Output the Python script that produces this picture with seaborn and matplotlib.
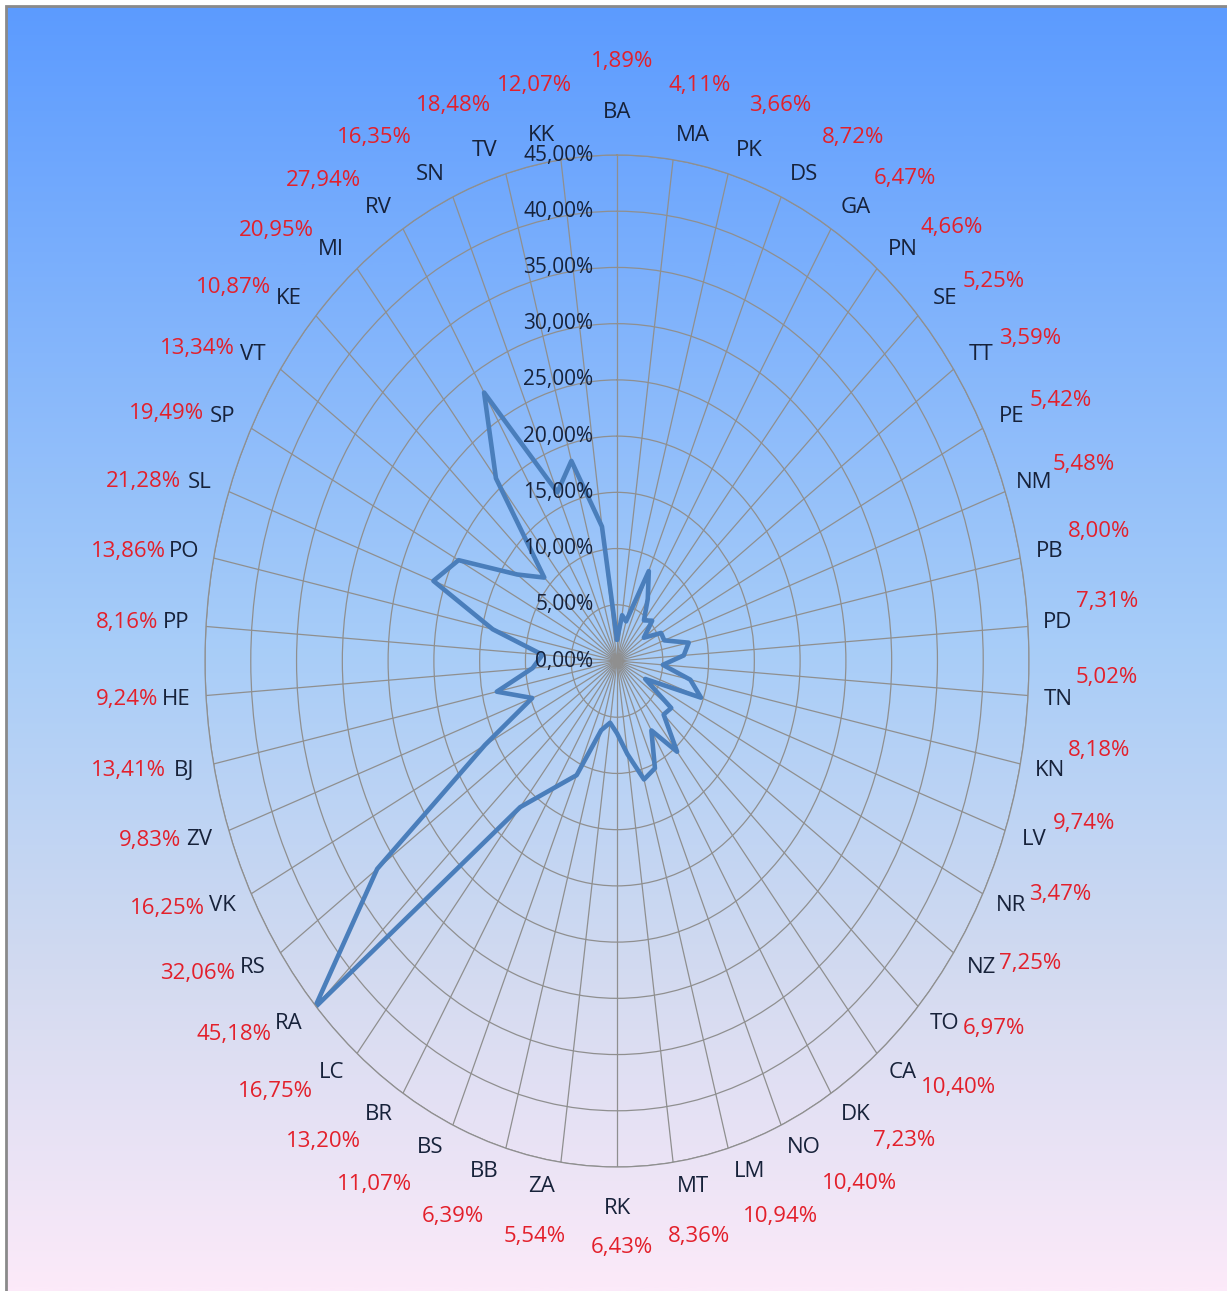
import numpy as np
import pandas as pd
import matplotlib
matplotlib.use("Agg")
import matplotlib.pyplot as plt
import seaborn as sns
from matplotlib.colors import LinearSegmentedColormap
from matplotlib.patches import Rectangle

# categorias en sentido horario desde arriba
categories = ["BA", "MA", "PK", "DS", "GA", "PN", "SE", "TT", "PE", "NM", "PB", "PD",
              "TN", "KN", "LV", "NR", "NZ", "TO", "CA", "DK", "NO", "LM", "MT", "RK",
              "ZA", "BB", "BS", "BR", "LC", "RA", "RS", "VK", "ZV", "BJ", "HE", "PP",
              "PO", "SL", "SP", "VT", "KE", "MI", "RV", "SN", "TV", "KK"]
values = [1.89, 4.11, 3.66, 8.72, 6.47, 4.66, 5.25, 3.59, 5.42, 5.48, 8.00, 7.31,
          5.02, 8.18, 9.74, 3.47, 7.25, 6.97, 10.40, 7.23, 10.40, 10.94, 8.36, 6.43,
          5.54, 6.39, 11.07, 13.20, 16.75, 45.18, 32.06, 16.25, 9.83, 13.41, 9.24, 8.16,
          13.86, 21.28, 19.49, 13.34, 10.87, 20.95, 27.94, 16.35, 18.48, 12.07]
r_ticks = [0, 5, 10, 15, 20, 25, 30, 35, 40, 45]

def pct(v):
    return f"{v:.2f}%".replace(".", ",")

sns.set_theme(style="white")
plt.rcParams["font.family"] = ["Open Sans", "DejaVu Sans"]

W, H = 1227, 1291
fig = plt.figure(figsize=(W / 100, H / 100), dpi=100)
fig.patch.set_facecolor("white")

# fondo degradado
cmap = LinearSegmentedColormap.from_list(
    "fondo", [(0.0, "#5C9BFF"), (0.5, "#A8CDF8"), (0.75, "#D2DAF0"), (1.0, "#FCEAF9")])
bg = fig.add_axes([6 / W, 0, 1 - 6 / W, 1 - 6 / H])
bg.imshow(np.linspace(0, 1, 512).reshape(-1, 1), aspect="auto", cmap=cmap, extent=[0, 1, 0, 1])
bg.axis("off")
fig.add_artist(Rectangle((6 / W, -0.01), 1.2, 1 - 6 / H + 0.01, transform=fig.transFigure,
                         fill=False, ec="#8A8A8A", lw=2))

n = len(categories)
angles = np.arange(n) * 2 * np.pi / n
df = pd.DataFrame({"angle": np.append(angles, 2 * np.pi), "value": values + [values[0]]})

ax = fig.add_axes([(617 - 412) / W, (H - 1167) / H, 824 / W, 1012 / H], projection="polar")
ax.set_aspect("auto")
ax.set_theta_zero_location("N")
ax.set_theta_direction(-1)
ax.set_facecolor("none")

sns.lineplot(data=df, x="angle", y="value", ax=ax, color="#4A7EBB", lw=3.3, sort=False)
ax.set_ylim(0, 45)
ax.set_xticks(angles)
ax.set_xticklabels([])
ax.set_yticks(r_ticks[1:])
ax.set_yticklabels([])
ax.set_xlabel("")
ax.set_ylabel("")
ax.grid(True, color="#8F8F8F", lw=0.9)
ax.spines["polar"].set_color("#8F8F8F")
ax.spines["polar"].set_linewidth(0.9)

for r in r_ticks:
    ax.annotate(pct(r), xy=(0, r), xytext=(-17, 0), textcoords="offset points",
                ha="right", va="center", fontsize=15, color="#17223A", annotation_clip=False)

PT = 0.72  # px -> pt a 100 dpi
for a, cat, v in zip(angles, categories, values):
    s, c = np.sin(a), np.cos(a)
    sx = np.sign(np.round(s, 6))
    sy = np.sign(np.round(c, 6))
    # etiqueta de categoria junto al borde
    if sx == 0:
        dx, dy = 0, 42 * c
    else:
        dx, dy = 12 * s + 18 * sx, 22 * c + 2 * sy
    ax.annotate(cat, xy=(a, 45), xytext=(dx * PT, dy * PT), textcoords="offset points",
                ha="center", va="center", fontsize=16, color="#17223A", annotation_clip=False)
    # porcentaje en rojo, por fuera de la categoria
    ry = 52 * sy * c ** 4 + 22 * max(s, 0) ** 4
    if sx == 0 and c < 0:
        ry = -38
    if abs(s) > 0.3:
        rx, ha = 18 * sx, ("left" if sx > 0 else "right")
    else:
        rx, ha = 46 * np.clip((abs(s) - 0.1) / 0.25, 0, 1) * sx, "center"
    if sx == 0:
        rx = 5
    ax.annotate(pct(v), xy=(a, 45), xytext=((dx + rx) * PT, (dy + ry) * PT),
                textcoords="offset points", ha=ha, va="center", fontsize=16,
                color="#E3202B", annotation_clip=False)

fig.savefig("out.png", dpi=100)
